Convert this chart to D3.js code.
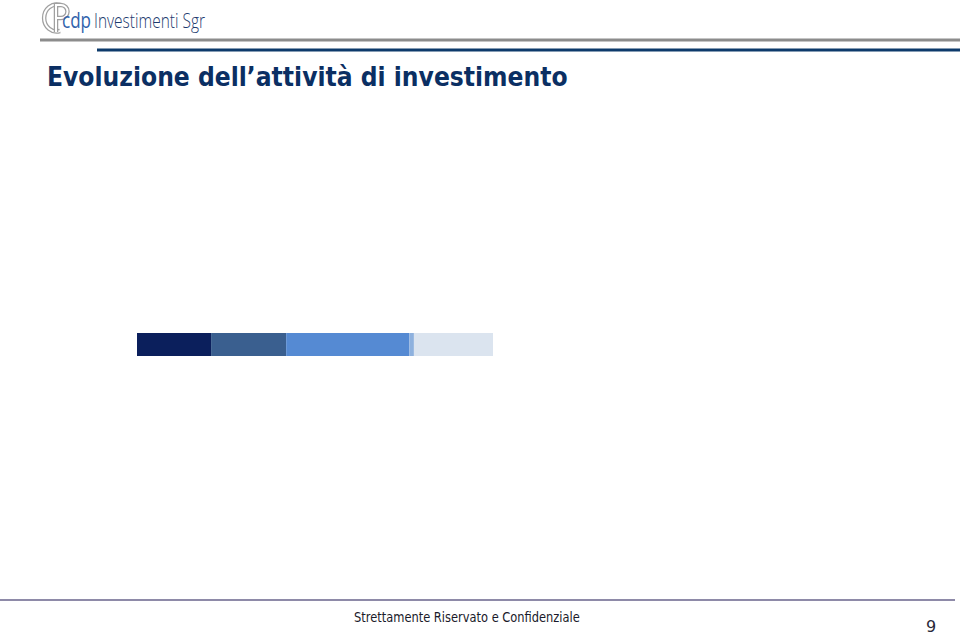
<!DOCTYPE html>
<html>
<head>
<meta charset="utf-8">
<script src="https://cdn.jsdelivr.net/npm/d3@7"></script>
<style>
  html, body { margin: 0; padding: 0; background: #ffffff; }
  svg { display: block; }
</style>
</head>
<body>
<svg id="chart" width="960" height="635"></svg>
<script>
// ---- data ----
const categories = ["Segmento 1", "Segmento 2", "Segmento 3", "Segmento 4", "Segmento 5"];
const values = [74, 75, 123, 4.6, 79];
const colors = ["#0b1f5c", "#3a5f8f", "#558ad3", "#8eb1de", "#dbe4ef"];
const titleText = "Evoluzione dell\u2019attività di investimento";
const footerText = "Strettamente Riservato e Confidenziale";
const pageNumber = "9";

const svg = d3.select("#chart");

// helper: fit a text element horizontally to a target width (left anchored at x0)
function fitWidth(sel, x0, target) {
  const w = sel.node().getComputedTextLength();
  const s = target / w;
  sel.attr("transform", `translate(${x0},0) scale(${s},1) translate(${-x0},0)`);
}

// ---- header: logo ----
const logo = svg.append("g");
// emblem: outlined C and P
logo.append("path")
  .attr("d", "M60,5 A12.5,13.5 0 1 0 60,31")
  .attr("fill", "none").attr("stroke", "#a0a0a0").attr("stroke-width", 4.5);
logo.append("path")
  .attr("d", "M60,5 A12.5,13.5 0 1 0 60,31")
  .attr("fill", "none").attr("stroke", "#ffffff").attr("stroke-width", 2);
logo.append("path")
  .attr("d", "M56,32 L56,5 L61,5 A6.5,6.5 0 0 1 61,18 L56,18")
  .attr("fill", "none").attr("stroke", "#a0a0a0").attr("stroke-width", 4.5);
logo.append("path")
  .attr("d", "M56,32 L56,5 L61,5 A6.5,6.5 0 0 1 61,18 L56,18")
  .attr("fill", "none").attr("stroke", "#ffffff").attr("stroke-width", 2);

const cdp = logo.append("text")
  .attr("x", 62).attr("y", 28)
  .attr("font-family", "'Open Sans', sans-serif")
  .attr("font-size", 21)
  .attr("fill", "#2f62ab")
  .text("cdp");
fitWidth(cdp, 62, 29);
const inv = logo.append("text")
  .attr("x", 94).attr("y", 28)
  .attr("font-family", "'Open Sans', sans-serif")
  .attr("font-weight", 300)
  .attr("font-size", 21)
  .attr("fill", "#1d3a6e")
  .text("Investimenti Sgr");
fitWidth(inv, 94, 111);

// header rules
svg.append("rect").attr("x", 40).attr("y", 38.5).attr("width", 920).attr("height", 3).attr("fill", "#8c8c8c");
svg.append("rect").attr("x", 97).attr("y", 48.5).attr("width", 863).attr("height", 3).attr("fill", "#0d3a6b");

// title
const title = svg.append("text")
  .attr("x", 47).attr("y", 86)
  .attr("font-family", "'DejaVu Sans', Verdana, sans-serif")
  .attr("font-weight", "bold")
  .attr("font-size", 27)
  .attr("fill", "#0b2f63")
  .text(titleText);
fitWidth(title, 47, 521);

// ---- chart: single stacked horizontal bar ----
const total = d3.sum(values);
const x = d3.scaleLinear().domain([0, total]).range([137, 493]);
const y = d3.scaleBand().domain(["bar"]).range([333, 356]).padding(0);

let acc = 0;
const stacked = values.map((v, i) => {
  const d = { key: categories[i], x0: acc, x1: acc + v, color: colors[i] };
  acc += v;
  return d;
});

svg.append("g").selectAll("rect")
  .data(stacked)
  .join("rect")
  .attr("x", d => x(d.x0))
  .attr("y", y("bar"))
  .attr("width", d => x(d.x1) - x(d.x0))
  .attr("height", y.bandwidth())
  .attr("fill", d => d.color);

// ---- footer ----
svg.append("rect").attr("x", 0).attr("y", 599).attr("width", 955).attr("height", 2).attr("fill", "#8e8aa8");

const foot = svg.append("text")
  .attr("x", 354).attr("y", 622)
  .attr("font-family", "'DejaVu Sans', Verdana, sans-serif")
  .attr("font-size", 14)
  .attr("fill", "#1a1a2a")
  .text(footerText);
fitWidth(foot, 354, 226);

svg.append("text")
  .attr("x", 931).attr("y", 632)
  .attr("text-anchor", "middle")
  .attr("font-family", "'DejaVu Sans', Verdana, sans-serif")
  .attr("font-size", 16)
  .attr("fill", "#2a2a3a")
  .text(pageNumber);
</script>
</body>
</html>
